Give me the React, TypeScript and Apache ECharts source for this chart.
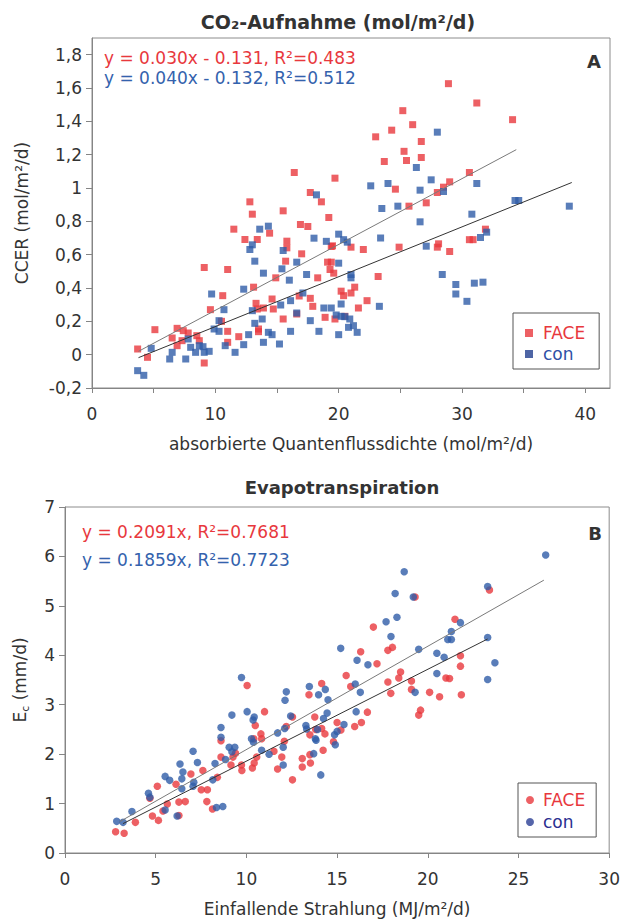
import React, { useEffect, useRef } from "react";
import * as echarts from "echarts";

const RED = "#e8383d";
const BLUE = "#2f5ca8";
const FONT = '"DejaVu Sans", Verdana, sans-serif';

// ---------- Chart A: CO2-Aufnahme ----------
const faceA: number[][] = [
  [28.9, 1.626], [31.2, 1.51], [25.2, 1.464], [34.1, 1.41], [26.0, 1.38], [24.3, 1.347], [23.0, 1.307],
  [26.7, 1.279], [25.3, 1.22], [26.7, 1.183], [25.5, 1.165], [23.7, 1.159], [16.4, 1.093], [30.6, 1.093],
  [19.7, 1.059], [29.0, 1.037], [24.6, 0.993], [28.5, 1.005], [28.0, 0.973], [17.7, 0.973], [18.6, 0.917],
  [27.1, 0.911], [12.8, 0.917], [25.7, 0.891], [13.0, 0.843], [15.5, 0.863], [19.2, 0.823], [16.9, 0.781],
  [17.5, 0.769], [11.5, 0.753], [14.4, 0.729], [31.9, 0.753], [12.4, 0.691], [13.4, 0.691], [15.8, 0.681],
  [30.6, 0.69], [30.9, 0.69], [15.8, 0.641], [19.4, 0.649], [19.5, 0.653], [21.0, 0.645], [22.0, 0.631],
  [24.9, 0.645], [28.0, 0.645], [28.1, 0.665], [29.0, 0.619], [17.0, 0.605], [15.7, 0.561], [19.1, 0.555],
  [19.4, 0.555], [19.3, 0.511], [19.6, 0.489], [9.1, 0.523], [11.0, 0.511], [18.3, 0.461], [14.9, 0.461],
  [23.2, 0.469], [13.1, 0.405], [10.6, 0.354], [20.2, 0.381], [21.3, 0.405], [20.4, 0.354], [21.0, 0.37],
  [17.7, 0.338], [14.6, 0.334], [16.8, 0.352], [22.3, 0.324], [13.3, 0.308], [14.7, 0.274], [13.9, 0.28],
  [13.4, 0.274], [17.9, 0.29], [21.6, 0.28], [9.6, 0.27], [16.6, 0.244], [15.5, 0.214], [10.5, 0.2],
  [18.9, 0.224], [19.7, 0.214], [20.5, 0.23], [5.1, 0.15], [6.9, 0.158], [7.4, 0.144], [7.8, 0.13],
  [8.5, 0.114], [6.5, 0.1], [7.3, 0.084], [6.9, 0.054], [8.7, 0.084], [11.0, 0.14], [11.0, 0.074],
  [11.9, 0.108], [13.5, 0.138], [13.5, 0.154], [3.7, 0.034], [4.5, -0.016], [9.1, -0.05],
];

const conA: number[][] = [
  [28.0, 1.335], [26.3, 1.123], [27.5, 1.049], [24.0, 1.027], [31.2, 1.027], [22.6, 1.013], [26.6, 0.987],
  [28.5, 0.979], [18.2, 0.959], [24.8, 0.891], [23.5, 0.877], [34.3, 0.925], [34.6, 0.925], [38.7, 0.891],
  [30.8, 0.843], [26.6, 0.797], [14.3, 0.771], [13.6, 0.753], [20.0, 0.723], [32.0, 0.735], [31.5, 0.703],
  [18.0, 0.699], [19.0, 0.68], [20.4, 0.69], [20.7, 0.675], [23.4, 0.7], [12.8, 0.631], [13.0, 0.659],
  [27.1, 0.651], [15.5, 0.625], [13.2, 0.561], [16.6, 0.555], [20.0, 0.549], [15.4, 0.515], [13.9, 0.489],
  [17.4, 0.481], [21.0, 0.461], [21.0, 0.481], [16.0, 0.447], [28.4, 0.481], [29.5, 0.421], [29.5, 0.364],
  [31.0, 0.429], [31.7, 0.435], [30.4, 0.32], [12.3, 0.393], [9.7, 0.364], [17.1, 0.37], [15.3, 0.298],
  [16.1, 0.324], [20.2, 0.304], [23.3, 0.29], [13.0, 0.264], [10.7, 0.27], [18.8, 0.28], [19.4, 0.28],
  [16.6, 0.25], [13.8, 0.214], [10.3, 0.204], [13.2, 0.188], [17.7, 0.204], [19.8, 0.238], [20.2, 0.23],
  [20.5, 0.228], [20.9, 0.214], [20.8, 0.164], [21.2, 0.174], [21.5, 0.134], [18.4, 0.14], [20.0, 0.12],
  [16.1, 0.14], [9.9, 0.154], [10.3, 0.14], [7.8, 0.094], [8.0, 0.044], [8.7, 0.054], [9.0, 0.048],
  [8.4, 0.014], [9.1, 0.014], [9.5, 0.02], [10.8, 0.054], [11.6, 0.014], [12.3, 0.06], [12.7, 0.12],
  [14.3, 0.134], [14.6, 0.12], [13.9, 0.074], [15.2, 0.064], [4.8, 0.038], [6.5, 0.014], [6.3, -0.026],
  [7.6, -0.026], [3.7, -0.096], [4.2, -0.124],
];

// trend line end points
const trendA1: number[][] = [[3.77, 0.02], [34.4, 1.23]];
const trendA2: number[][] = [[3.77, -0.018], [38.9, 1.033]];

const xTicksA = [0, 5, 10, 15, 20, 25, 30, 35, 40];
const xLabelsA = [0, 10, 20, 30, 40];
const yTicksA = [-0.2, 0, 0.2, 0.4, 0.6, 0.8, 1, 1.2, 1.4, 1.6, 1.8];

// ---------- Chart B: Evapotranspiration ----------
const faceB: number[][] = [
  [23.4, 5.32], [19.3, 5.18], [21.5, 4.73], [17.0, 4.57], [18.05, 4.16], [17.8, 4.1], [16.3, 4.07],
  [21.8, 3.99], [17.2, 3.83], [21.8, 3.78], [15.5, 3.59], [18.5, 3.66], [18.4, 3.54], [21.0, 3.54],
  [21.2, 3.53], [19.1, 3.48], [17.8, 3.46], [14.15, 3.43], [15.75, 3.37], [10.04, 3.39], [19.1, 3.31],
  [20.1, 3.25], [13.45, 3.2], [17.96, 3.23], [20.65, 3.16], [21.85, 3.2], [11.0, 2.86], [19.6, 2.89],
  [19.5, 2.79], [16.67, 2.85], [12.54, 2.75], [13.77, 2.75], [15.0, 2.64], [16.34, 2.64], [15.97, 2.56],
  [12.2, 2.56], [15.21, 2.49], [10.49, 2.58], [10.8, 2.41], [8.6, 2.27], [13.82, 2.5], [14.15, 2.52],
  [13.5, 2.39], [14.33, 2.41], [14.8, 2.25], [12.09, 2.26], [10.41, 2.31], [10.84, 2.31], [11.52, 2.06],
  [9.4, 2.02], [9.26, 1.94], [14.23, 2.08], [13.5, 1.99], [13.08, 1.91], [11.95, 1.94], [10.57, 1.94],
  [9.73, 1.78], [9.15, 1.78], [10.43, 1.82], [13.53, 1.82], [13.08, 1.74], [10.33, 1.72], [9.75, 1.67],
  [11.72, 1.7], [8.6, 1.94], [12.54, 1.48], [8.4, 1.53], [7.6, 1.67], [6.94, 1.6], [6.12, 1.39],
  [7.51, 1.28], [7.85, 1.28], [7.82, 1.04], [6.63, 1.04], [6.28, 1.03], [5.09, 1.35], [4.68, 1.11],
  [5.64, 0.99], [5.4, 0.85], [8.13, 0.89], [6.28, 0.76], [4.82, 0.75], [5.15, 0.66], [3.88, 0.62],
  [2.79, 0.43], [3.26, 0.4],
];

const conB: number[][] = [
  [26.5, 6.03], [18.7, 5.69], [23.3, 5.39], [18.2, 5.25], [19.2, 5.18], [18.3, 4.77], [17.7, 4.68],
  [21.8, 4.66], [21.3, 4.48], [17.97, 4.38], [23.3, 4.36], [21.1, 4.32], [21.3, 4.32], [15.2, 4.14],
  [19.5, 4.12], [20.5, 4.04], [20.9, 3.96], [16.1, 3.9], [16.7, 3.81], [23.7, 3.85], [20.5, 3.63],
  [23.3, 3.51], [16.0, 3.42], [13.47, 3.37], [9.73, 3.55], [19.3, 3.25], [12.2, 3.26], [14.35, 3.31],
  [13.98, 3.2], [16.28, 3.25], [14.5, 3.1], [12.13, 3.09], [10.04, 2.86], [16.05, 2.86], [9.2, 2.79],
  [12.44, 2.77], [10.43, 2.75], [14.25, 2.72], [14.45, 2.83], [10.37, 2.69], [15.38, 2.6], [13.28, 2.58],
  [13.32, 2.51], [10.28, 2.31], [8.6, 2.54], [8.6, 2.34], [12.11, 2.52], [11.72, 2.43], [13.92, 2.5],
  [15.0, 2.46], [14.86, 2.39], [14.9, 2.19], [13.8, 2.31], [13.84, 2.28], [12.03, 2.14], [10.39, 2.24],
  [9.05, 2.14], [9.36, 2.14], [9.2, 2.05], [10.84, 2.08], [8.85, 1.89], [11.25, 2.0], [13.71, 2.01],
  [12.03, 1.78], [8.27, 1.81], [7.3, 1.83], [7.06, 2.06], [14.1, 1.58], [8.15, 1.48], [6.34, 1.8],
  [6.5, 1.64], [6.44, 1.5], [7.1, 1.43], [7.06, 1.35], [6.44, 1.3], [5.52, 1.55], [5.77, 1.47],
  [4.6, 1.21], [4.68, 1.13], [5.52, 0.87], [8.35, 0.92], [8.7, 0.94], [6.18, 0.75], [3.69, 0.84],
  [2.85, 0.64], [3.2, 0.62],
];

const trendB1: number[][] = [[3.0, 0.63], [26.4, 5.52]];
const trendB2: number[][] = [[3.2, 0.595], [23.3, 4.33]];

const xTicksB = [0, 5, 10, 15, 20, 25, 30];
const yTicksB = [0, 1, 2, 3, 4, 5, 6, 7];

const AXIS_COLOR = "#858585";
const LABEL_COLOR = "#333";

function deNum(v: number) {
  return String(Math.round(v * 10) / 10).replace(".", ",");
}

function baseAxis(extra: any) {
  return {
    type: "value",
    splitLine: { show: false },
    axisLine: { show: true, onZero: false, lineStyle: { color: AXIS_COLOR, width: 1 } },
    nameTextStyle: { fontSize: 17, color: LABEL_COLOR, fontFamily: FONT },
    nameLocation: "middle",
    ...extra,
  };
}

export default function App() {
  const ref = useRef<HTMLDivElement>(null);
  useEffect(() => {
    if (!ref.current) return;
    const chart = echarts.init(ref.current, null, { renderer: "svg" });
    const option: any = {
      animation: false,
      textStyle: { fontFamily: FONT },
      grid: [
        { left: 92, top: 38, width: 518, height: 350, show: true, borderColor: "#8c8c8c", borderWidth: 1 },
        { left: 65, top: 507, width: 545, height: 346, show: true, borderColor: "#8c8c8c", borderWidth: 1 },
      ],
      xAxis: [
        baseAxis({
          gridIndex: 0,
          min: 0,
          max: 42,
          name: "absorbierte Quantenflussdichte (mol/m²/d)",
          nameGap: 47,
          axisTick: { show: true, length: 5, customValues: xTicksA, lineStyle: { color: AXIS_COLOR } },
          axisLabel: { customValues: xLabelsA, margin: 17, fontSize: 17, color: LABEL_COLOR },
        }),
        baseAxis({
          gridIndex: 1,
          min: 0,
          max: 30,
          name: "Einfallende Strahlung (MJ/m²/d)",
          nameGap: 47,
          axisTick: { show: true, length: 5, customValues: xTicksB, lineStyle: { color: AXIS_COLOR } },
          axisLabel: { customValues: xTicksB, margin: 17, fontSize: 17, color: LABEL_COLOR },
        }),
      ],
      yAxis: [
        baseAxis({
          gridIndex: 0,
          min: -0.2,
          max: 1.9,
          name: "CCER (mol/m²/d)",
          nameGap: 62,
          axisTick: { show: true, length: 6, customValues: yTicksA, lineStyle: { color: AXIS_COLOR } },
          axisLabel: {
            customValues: yTicksA,
            margin: 10,
            fontSize: 17,
            color: LABEL_COLOR,
            formatter: (v: number) => deNum(v),
          },
        }),
        baseAxis({
          gridIndex: 1,
          min: 0,
          max: 7,
          name: "{a|E}{b|c}{a| (mm/d)}",
          nameGap: 34,
          nameTextStyle: {
            color: LABEL_COLOR,
            fontFamily: FONT,
            rich: {
              a: { fontSize: 17, color: LABEL_COLOR, fontFamily: FONT, lineHeight: 22 },
              b: { fontSize: 11, color: LABEL_COLOR, fontFamily: FONT, verticalAlign: "bottom", lineHeight: 14 },
            },
          },
          axisTick: { show: true, length: 6, customValues: yTicksB, lineStyle: { color: AXIS_COLOR } },
          axisLabel: { customValues: yTicksB, margin: 10, fontSize: 17, color: LABEL_COLOR },
        }),
      ],
      legend: [
        {
          data: [
            { name: "FACE", icon: "rect", textStyle: { color: RED } },
            { name: "con", icon: "rect", itemStyle: { color: "#223f8f" }, textStyle: { color: "#2e50a6" } },
          ],
          orient: "vertical",
          left: 513,
          top: 313,
          itemWidth: 8,
          itemHeight: 8,
          itemGap: 1,
          padding: [10, 14, 5, 12],
          borderColor: "#555",
          borderWidth: 1,
          selectedMode: false,
          textStyle: { fontSize: 17, fontFamily: FONT, lineHeight: 20, padding: [0, 0, 0, 5] },
        },
        {
          data: [
            { name: "FACE", icon: "circle", textStyle: { color: RED } },
            { name: "con", icon: "circle", itemStyle: { color: "#2b3f95" }, textStyle: { color: "#2a2f90" } },
          ],
          orient: "vertical",
          left: 518,
          top: 783,
          itemWidth: 8,
          itemHeight: 8,
          itemGap: 2,
          padding: [7, 11, 5, 8],
          borderColor: "#555",
          borderWidth: 1,
          selectedMode: false,
          textStyle: { fontSize: 17, fontFamily: FONT, lineHeight: 20, padding: [0, 0, 0, 4] },
        },
      ],
      graphic: [
        {
          type: "text", x: 338, y: 22,
          style: { text: "CO₂-Aufnahme (mol/m²/d)", font: `bold 19px ${FONT}`, fill: "#333", align: "center", verticalAlign: "middle" },
        },
        {
          type: "text", x: 342, y: 487,
          style: { text: "Evapotranspiration", font: `bold 18px ${FONT}`, fill: "#333", align: "center", verticalAlign: "middle" },
        },
        {
          type: "text", x: 104, y: 58,
          style: { text: "y = 0.030x - 0.131, R²=0.483", font: `17px ${FONT}`, fill: RED, align: "left", verticalAlign: "middle" },
        },
        {
          type: "text", x: 104, y: 78,
          style: { text: "y = 0.040x - 0.132, R²=0.512", font: `17px ${FONT}`, fill: "#3462ad", align: "left", verticalAlign: "middle" },
        },
        {
          type: "text", x: 594, y: 61,
          style: { text: "A", font: `bold 18px ${FONT}`, fill: "#333", align: "center", verticalAlign: "middle" },
        },
        {
          type: "text", x: 82, y: 532,
          style: { text: "y = 0.2091x, R²=0.7681", font: `17px ${FONT}`, fill: RED, align: "left", verticalAlign: "middle" },
        },
        {
          type: "text", x: 82, y: 560,
          style: { text: "y = 0.1859x, R²=0.7723", font: `17px ${FONT}`, fill: "#3462ad", align: "left", verticalAlign: "middle" },
        },
        {
          type: "text", x: 595, y: 533,
          style: { text: "B", font: `bold 18px ${FONT}`, fill: "#333", align: "center", verticalAlign: "middle" },
        },
      ],
      series: [
        { name: "FACE", type: "scatter", xAxisIndex: 0, yAxisIndex: 0, symbol: "rect", symbolSize: 7, data: faceA, itemStyle: { color: RED } },
        { name: "con", type: "scatter", xAxisIndex: 0, yAxisIndex: 0, symbol: "rect", symbolSize: 7, data: conA, itemStyle: { color: BLUE } },
        { name: "TrendA1", type: "line", xAxisIndex: 0, yAxisIndex: 0, data: trendA1, symbol: "none", silent: true, lineStyle: { color: "#7a7a7a", width: 1 } },
        { name: "TrendA2", type: "line", xAxisIndex: 0, yAxisIndex: 0, data: trendA2, symbol: "none", silent: true, lineStyle: { color: "#333", width: 1 } },
        { name: "FACE", type: "scatter", xAxisIndex: 1, yAxisIndex: 1, symbol: "circle", symbolSize: 7.5, data: faceB, itemStyle: { color: RED } },
        { name: "con", type: "scatter", xAxisIndex: 1, yAxisIndex: 1, symbol: "circle", symbolSize: 7.5, data: conB, itemStyle: { color: BLUE } },
        { name: "TrendB1", type: "line", xAxisIndex: 1, yAxisIndex: 1, data: trendB1, symbol: "none", silent: true, lineStyle: { color: "#7a7a7a", width: 1 } },
        { name: "TrendB2", type: "line", xAxisIndex: 1, yAxisIndex: 1, data: trendB2, symbol: "none", silent: true, lineStyle: { color: "#333", width: 1 } },
      ],
    };
    chart.setOption(option);
    return () => chart.dispose();
  }, []);
  return <div ref={ref} style={{ position: "absolute", left: 0, top: 0, width: 623, height: 924, background: "#fff" }} />;
}
